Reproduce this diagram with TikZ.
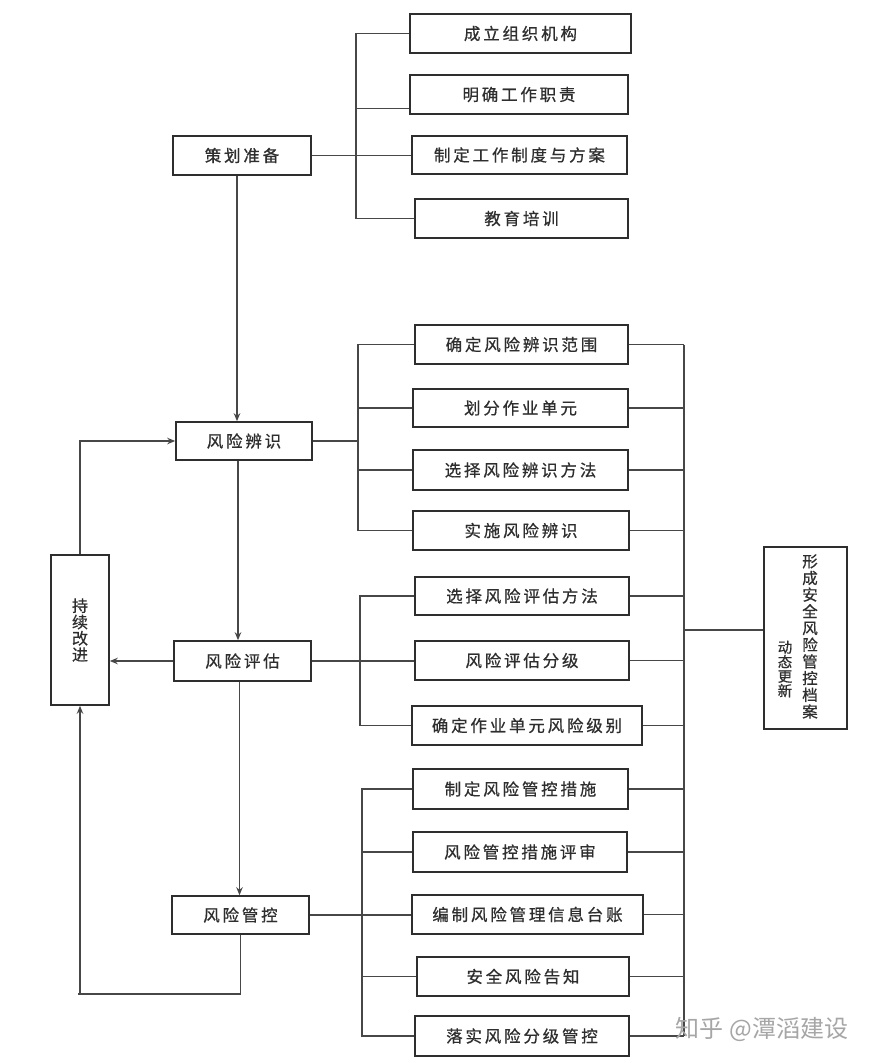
\documentclass[tikz,border=0pt]{standalone}
\usepackage{fontspec}
\newfontfamily\cjk[LetterSpace=17,FakeBold=0.7]{Noto Sans CJK SC}
\newfontfamily\cjkv[FakeBold=0.7]{Noto Sans CJK SC}
\newfontfamily\cjkw{Noto Sans CJK SC}
\usetikzlibrary{arrows.meta}
\newcommand\mkbox[6]{\node[box,minimum width={(#4-#2)*1pt},minimum height={(#5-#3)*1pt}] (#1) at ({(#2+#4)/2},{(#3+#5)/2}) {#6};}
\begin{document}
\begin{tikzpicture}[x=1pt,y=-1pt,
  box/.style={draw=black!82,line width=1.6pt,fill=white,inner sep=0pt,text=black!82,font=\cjk\fontsize{16.5}{18}\selectfont},
  ln/.style={draw=black!72,line width=1.8pt},
  arr/.style={ln,-{Stealth[length=8pt,width=6.5pt]}},
  vt/.style={inner sep=0pt,align=center,text=black!82}]
\useasboundingbox[fill=white] (0,0) rectangle (878,1063);
% main column
\mkbox{p1}{173}{136}{311}{175}{策划准备}
\mkbox{p2}{176}{422}{312}{460}{风险辨识}
\mkbox{p3}{174}{641}{311}{681}{风险评估}
\mkbox{p4}{172}{896}{309}{934}{风险管控}
\node[box,minimum width=58pt,minimum height=150pt,align=center,font=\cjkv\fontsize{16}{16.3}\selectfont] (cx) at (80,630) {持\\续\\改\\进};
\node[box,minimum width=83pt,minimum height=182pt] (fa) at (805.5,638) {};
\node[vt,font=\cjkv\fontsize{15.5}{16.7}\selectfont] (fat1) at (810,636.5) {形\\成\\安\\全\\风\\险\\管\\控\\档\\案};
\node[vt,font=\cjkv\fontsize{14.5}{14.5}\selectfont] (fat2) at (785,669) {动\\态\\更\\新};
% group A
\mkbox{a1}{410}{14}{631}{53}{成立组织机构}
\mkbox{a2}{410}{75}{628}{114}{明确工作职责}
\mkbox{a3}{412}{136}{627}{174}{制定工作制度与方案}
\mkbox{a4}{415}{199}{628}{238}{教育培训}
% group B
\mkbox{b1}{415}{325}{628}{364}{确定风险辨识范围}
\mkbox{b2}{413}{389}{628}{427}{划分作业单元}
\mkbox{b3}{413}{450}{628}{490}{选择风险辨识方法}
\mkbox{b4}{413}{511}{629}{550}{实施风险辨识}
% group C
\mkbox{c1}{415}{577}{629}{615}{选择风险评估方法}
\mkbox{c2}{415}{641}{629}{680}{风险评估分级}
\mkbox{c3}{412}{706}{642}{745}{确定作业单元风险级别}
% group D
\mkbox{d1}{413}{769}{628}{809}{制定风险管控措施}
\mkbox{d2}{413}{832}{627}{872}{风险管控措施评审}
\mkbox{d3}{412}{895}{643}{934}{编制风险管理信息台账}
\mkbox{d4}{417}{957}{629}{996}{安全风险告知}
\mkbox{d5}{415}{1016}{629}{1056}{落实风险分级管控}
% bus coordinates
\coordinate (busA) at (356,0);
\coordinate (busB) at (358,0);
\coordinate (busC) at (360,0);
\coordinate (busD) at (362,0);
\coordinate (busR) at (684,0);
\coordinate (loop) at (78,994);
% group A connectors
\draw[ln] (p1.east) -- (p1.east -| a3.west);
\draw[ln] (a1.west) -- (a1.west -| busA) -- (a4.west -| busA) -- (a4.west);
\draw[ln] ([yshift=-14pt]a2.west) -- ([yshift=-14pt]a2.west -| busA);
% group B connectors
\draw[ln] (b1.west) -- (b1.west -| busB) -- (b4.west -| busB) -- (b4.west);
\draw[ln] (b2.west) -- (b2.west -| busB);
\draw[ln] (b3.west) -- (b3.west -| busB);
\draw[ln] (p2.east) -- (p2.east -| busB);
% group C connectors
\draw[ln] (c1.west) -- (c1.west -| busC) -- (c3.west -| busC) -- (c3.west);
\draw[ln] (p3.east) -- (p3.east -| c2.west);
% group D connectors
\draw[ln] (d1.west) -- (d1.west -| busD) -- (d5.west -| busD) -- (d5.west);
\draw[ln] (d2.west) -- (d2.west -| busD);
\draw[ln] (d4.west) -- (d4.west -| busD);
\draw[ln] (p4.east) -- (p4.east -| d3.west);
% right side
\foreach \n in {b1,b2,b3,b4,c1,c2,c3,d1,d2,d3,d4,d5}{\draw[ln] (\n.east) -- (\n.east -| busR);}
\draw[ln] (b1.east -| busR) -- (d5.east -| busR);
\draw[ln] ([yshift=8pt]fa.west -| busR) -- ([yshift=8pt]fa.west);
% main flow
\draw[arr] ([xshift=-5pt]p1.south) -- ([xshift=-5pt]p1.south |- p2.north);
\draw[arr] ([xshift=-6pt]p2.south) -- ([xshift=-6pt]p2.south |- p3.north);
\draw[arr] ([xshift=-3pt]p3.south) -- ([xshift=-3pt]p3.south |- p4.north);
\draw[arr] (p3.west) -- (p3.west -| cx.east);
\draw[arr] (cx.north) |- (p2.west);
\draw[arr] (p4.south) |- (loop) -| (cx.south);
% watermark
\node[text=black!35,font=\cjkw\fontsize{24}{24}\selectfont] (wm) at (762,1029) {知乎 @潭滔建设};
\end{tikzpicture}
\end{document}
